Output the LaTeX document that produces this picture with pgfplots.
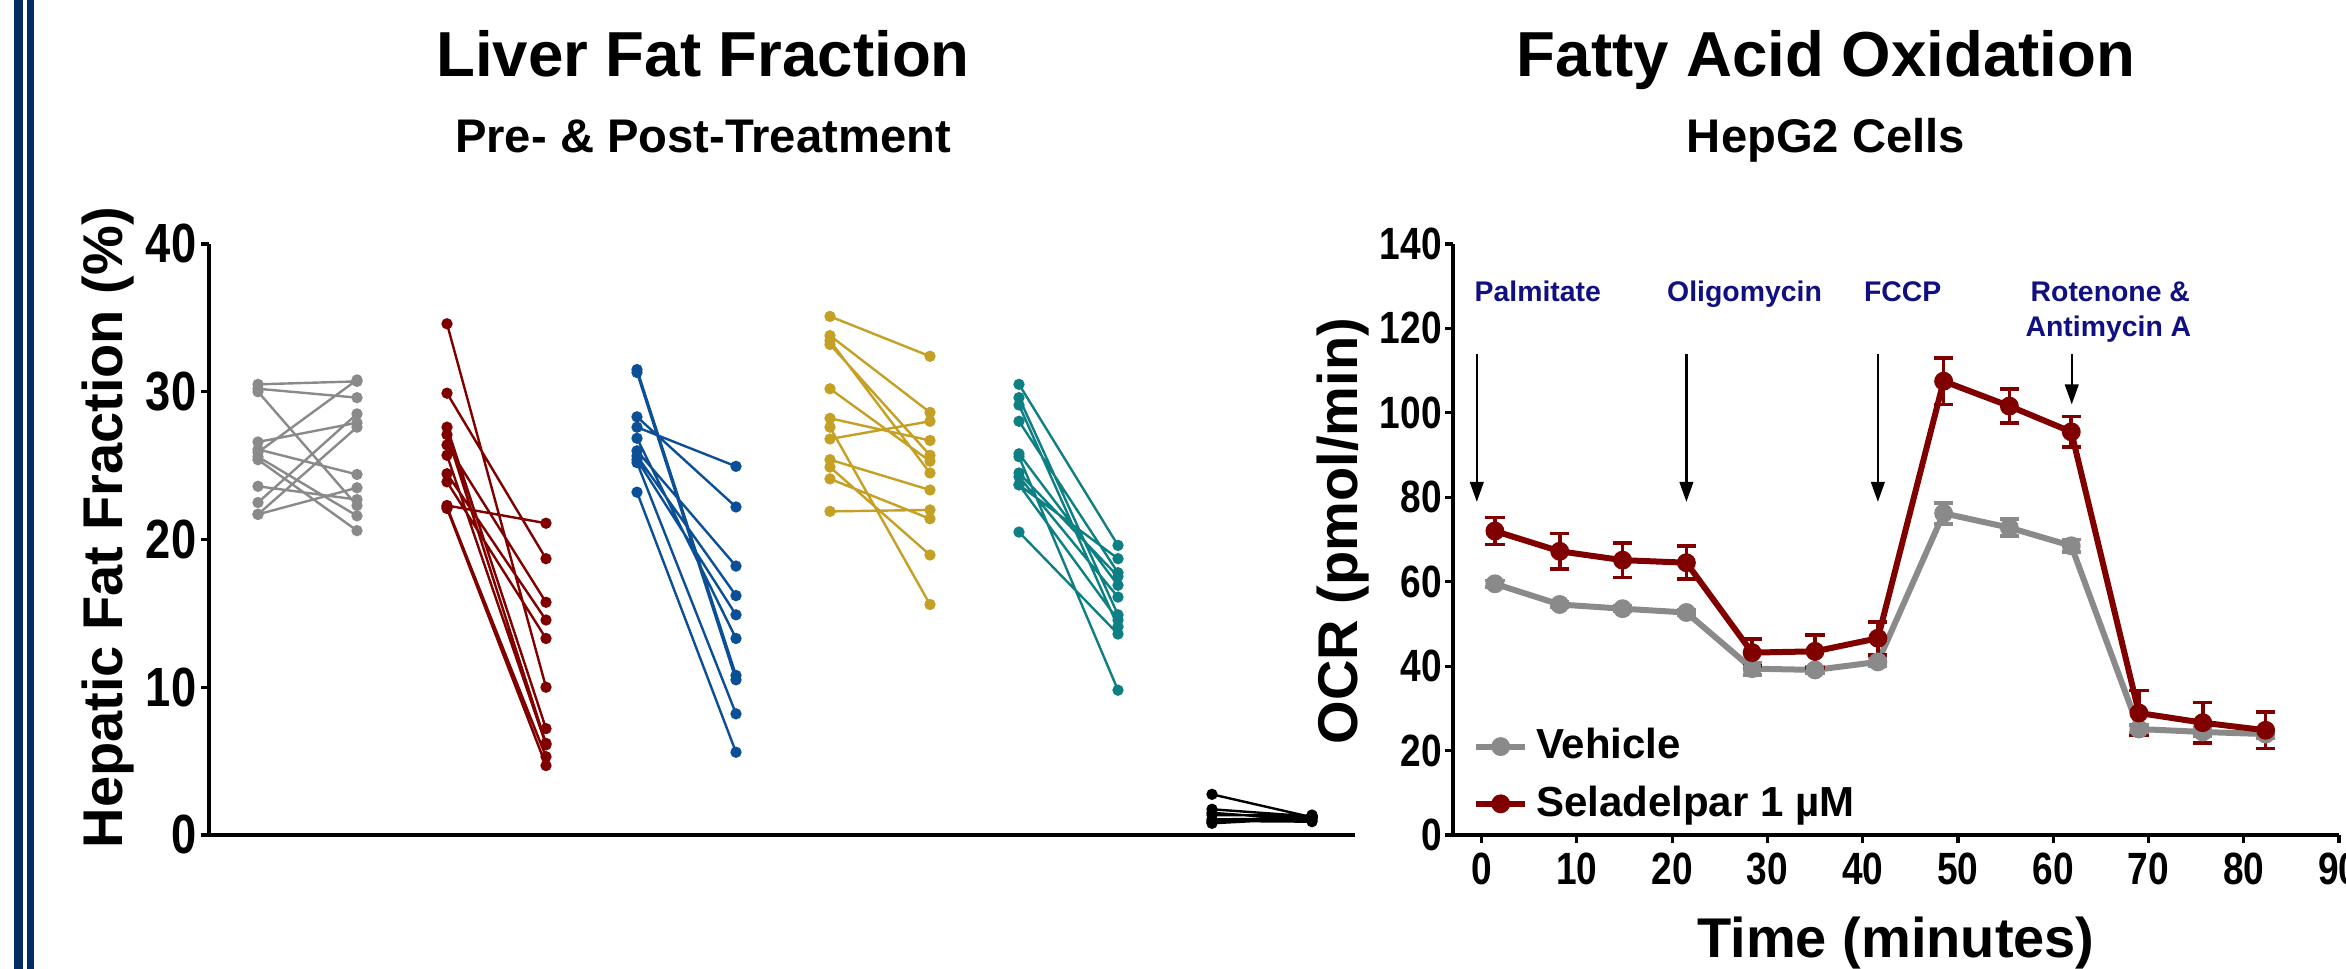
\documentclass[border=0pt]{standalone}
\usepackage{pgfplots}
\pgfplotsset{compat=1.18}
\usepackage{fontspec}
\setmainfont{Liberation Sans}
\newfontfamily\narrowfont{Liberation Sans}[FakeStretch=0.82]
\usetikzlibrary{arrows.meta}
\definecolor{navybar}{RGB}{0,45,98}
\definecolor{cgray}{RGB}{138,138,138}
\definecolor{cred}{RGB}{128,0,0}
\definecolor{cblue}{RGB}{11,79,150}
\definecolor{cgold}{RGB}{196,160,37}
\definecolor{cteal}{RGB}{14,128,132}
\definecolor{annot}{RGB}{16,16,128}
\newcommand{\tickfont}{\narrowfont\fontsize{11.3}{13}\selectfont\bfseries}
\newcommand{\bigtickfont}{\narrowfont\fontsize{13.8}{15}\selectfont\bfseries}
\newcommand{\labfont}{\fontsize{14}{16}\selectfont\bfseries}
\pgfplotsset{
  common/.style={
    scale only axis, clip=false,
    axis x line*=bottom, axis y line*=left,
    axis line style={-, line width=1.1pt},
    tick align=outside, major tick length=2pt,
    every tick/.style={black, line width=0.8pt},
    tick label style={font=\tickfont},
    xticklabel style={inner sep=2.2pt},
    /pgf/number format/assume math mode=true,
    label style={font=\labfont},
  },
  subj/.style={line width=0.6pt, mark=*, mark size=1.1pt, mark options={solid}},
}
\begin{document}
\begin{tikzpicture}[x=0.25pt,y=0.25pt]
\useasboundingbox (0,0) rectangle (2346,969);
\fill[navybar] (14,0) rectangle (23,969);
\fill[navybar] (26.5,0) rectangle (34,969);

\node[anchor=base, font=\fontsize{15.9}{18}\selectfont\bfseries] at (703,892.3) {Liver Fat Fraction};
\node[anchor=base, font=\fontsize{11.8}{14}\selectfont\bfseries] at (703,816.3) {Pre- \& Post-Treatment};
\node[anchor=base, font=\fontsize{15.9}{18}\selectfont\bfseries] at (1826,892.3) {Fatty Acid Oxidation};
\node[anchor=base, font=\fontsize{11.8}{14}\selectfont\bfseries] at (1826,816.3) {HepG2 Cells};

\begin{axis}[common,
  at={(52.25pt,33.5pt)}, anchor=south west,
  width=286.5pt, height=147.75pt,
  xmin=209, xmax=1355, ymin=0, ymax=40,
  xtick=\empty, ytick={0,10,20,30,40},
  yticklabel style={inner sep=1pt, font=\bigtickfont},
  unbounded coords=jump,
  ylabel={Hepatic Fat Fraction (\%)},
  ylabel style={at={(axis description cs:-0.0881,0.52)}, anchor=center},
]
\addplot[subj, cgray] table {
x y
258 30.5
357 30.7
nan nan
258 30.2
357 29.6
nan nan
258 30.0
357 22.3
nan nan
258 26.6
357 27.9
nan nan
258 25.9
357 30.8
nan nan
258 26.1
357 24.4
nan nan
258 25.6
357 21.6
nan nan
258 25.4
357 20.6
nan nan
258 23.6
357 22.7
nan nan
258 22.5
357 28.5
nan nan
258 21.7
357 27.6
nan nan
258 21.7
357 23.5
};
\addplot[subj, cred] table {
x y
447 34.6
546 10.0
nan nan
447 29.9
546 18.7
nan nan
447 27.6
546 7.2
nan nan
447 27.1
546 6.2
nan nan
447 26.4
546 15.75
nan nan
447 25.7
546 6.1
nan nan
447 24.45
546 14.55
nan nan
447 23.9
546 13.3
nan nan
447 22.3
546 21.1
nan nan
447 22.2
546 5.3
nan nan
447 22.1
546 4.7
};
\addplot[subj, cblue] table {
x y
637 31.5
736 10.8
nan nan
637 31.3
736 10.5
nan nan
637 28.3
736 22.2
nan nan
637 27.6
736 24.95
nan nan
637 26.85
736 13.3
nan nan
637 26.0
736 18.2
nan nan
637 25.65
736 16.2
nan nan
637 25.4
736 14.9
nan nan
637 25.2
736 8.2
nan nan
637 23.2
736 5.6
};
\addplot[subj, cgold] table {
x y
830 35.1
930 32.4
nan nan
830 33.8
930 28.6
nan nan
830 33.45
930 24.5
nan nan
830 33.2
930 25.7
nan nan
830 30.2
930 25.3
nan nan
830 28.2
930 26.7
nan nan
830 27.6
930 15.6
nan nan
830 26.8
930 28.0
nan nan
830 25.4
930 23.35
nan nan
830 24.9
930 18.95
nan nan
830 24.1
930 21.4
nan nan
830 21.9
930 22.0
};
\addplot[subj, cteal] table {
x y
1019 30.5
1118 19.6
nan nan
1019 29.6
1118 14.9
nan nan
1019 29.1
1118 14.1
nan nan
1019 28.0
1118 17.75
nan nan
1019 25.8
1118 16.9
nan nan
1019 25.6
1118 9.8
nan nan
1019 24.5
1118 17.5
nan nan
1019 24.25
1118 16.1
nan nan
1019 23.7
1118 18.7
nan nan
1019 23.7
1118 14.55
nan nan
1019 20.5
1118 13.6
};
\addplot[subj, black] table {
x y
1212 2.75
1312 1.2
nan nan
1212 1.74
1312 1.25
nan nan
1212 1.5
1312 1.0
nan nan
1212 1.35
1312 1.3
nan nan
1212 1.06
1312 1.1
nan nan
1212 0.95
1312 0.9
nan nan
1212 0.79
1312 1.15
nan nan
1212 0.85
1312 1.35
};
\end{axis}

\begin{axis}[common,
  at={(363.25pt,33.5pt)}, anchor=south west,
  width=221.5pt, height=147.75pt,
  xmin=-3, xmax=90, ymin=0, ymax=140,
  xtick={0,10,...,90}, ytick={0,20,...,140},
  yticklabel style={inner sep=0.6pt},
  xlabel={Time (minutes)},
  xlabel style={at={(axis description cs:0.5,-0.208)}, anchor=base},
  ylabel={OCR (pmol/min)},
  ylabel style={at={(axis description cs:-0.1242,0.514)}, anchor=center},
  legend style={at={(axis description cs:0.022,0.007)}, anchor=south west,
    draw=none, fill=none, font=\fontsize{10.5}{12}\selectfont\bfseries,
    row sep=1.2pt, inner sep=0pt,
    /tikz/every even column/.append style={column sep=0pt}},
  legend cell align=left,
  legend image code/.code={\draw[mark repeat=2,mark phase=2,#1] plot coordinates {(0pt,0pt) (6.1pt,0pt) (12.2pt,0pt)};},
]
\addplot[cgray, line width=1.5pt, mark=*, mark size=1.6pt, mark options={solid},
  error bars/.cd, y dir=both, y explicit,
  error bar style={line width=0.9pt},
  error mark options={rotate=90, mark size=2.4pt, line width=0.9pt}]
  table[y error=e] {
x y e
1.4 59.5 0.8
8.2 54.6 0.6
14.8 53.6 0.6
21.5 52.7 0.6
28.4 39.4 1.5
35.0 39.1 0.8
41.6 41.0 1.0
48.5 76.2 2.5
55.4 72.8 2.0
61.9 68.5 1.5
69.0 25.1 1.0
75.7 24.4 1.0
82.3 23.9 1.0
};
\addlegendentry{Vehicle}
\addplot[cred, line width=1.5pt, mark=*, mark size=1.6pt, mark options={solid},
  error bars/.cd, y dir=both, y explicit,
  error bar style={line width=0.9pt},
  error mark options={rotate=90, mark size=2.4pt, line width=0.9pt}]
  table[y error=e] {
x y e
1.4 72.0 3.2
8.2 67.2 4.2
14.8 65.1 4.1
21.5 64.5 3.9
28.4 43.2 3.2
35.0 43.5 3.9
41.6 46.6 3.9
48.5 107.5 5.5
55.4 101.6 4.0
61.9 95.5 3.6
69.0 28.9 5.3
75.7 26.6 4.8
82.3 24.8 4.3
};
\addlegendentry{Seladelpar 1 µM}
\begin{scope}[line width=0.55pt, -{Triangle[length=5pt,width=3.4pt]}]
\draw (axis cs:-0.5,113.9) -- (axis cs:-0.5,78.9);
\draw (axis cs:21.5,113.9) -- (axis cs:21.5,78.9);
\draw (axis cs:41.6,113.9) -- (axis cs:41.6,78.9);
\draw (axis cs:61.95,113.9) -- (axis cs:61.95,102);
\end{scope}
\begin{scope}[every node/.style={text=annot, font=\fontsize{7.1}{8.6}\selectfont\bfseries, anchor=base, inner sep=0pt}]
\node at (axis cs:5.9,126.4) {Palmitate};
\node at (axis cs:27.6,126.4) {Oligomycin};
\node at (axis cs:44.2,126.4) {FCCP};
\node at (axis cs:66.0,126.4) {Rotenone \&};
\node at (axis cs:65.8,118.2) {Antimycin A};
\end{scope}
\end{axis}
\end{tikzpicture}
\end{document}
